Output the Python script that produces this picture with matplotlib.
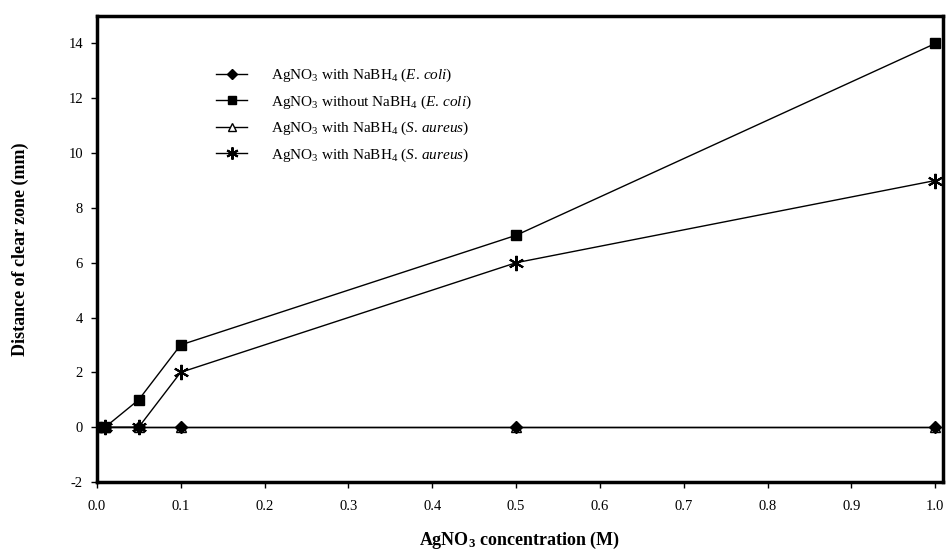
import numpy as np
import matplotlib
matplotlib.use("Agg")
import matplotlib.pyplot as plt

plt.rcParams["font.family"] = "Liberation Serif"
plt.rcParams["mathtext.fontset"] = "custom"
plt.rcParams["mathtext.rm"] = "Liberation Serif"
plt.rcParams["mathtext.it"] = "Liberation Serif:italic"
plt.rcParams["mathtext.bf"] = "Liberation Serif:bold"
plt.rcParams["axes.unicode_minus"] = False

# concentracoes de AgNO3 (M) e zona de inibicao (mm)
conc = [0.0, 0.01, 0.05, 0.1, 0.5, 1.0]
ecoli_with = [0, 0, 0, 0, 0, 0]
ecoli_without = [0, 0, 1, 3, 7, 14]
saureus_with = [0, 0, 0, 0, 0, 0]
saureus_with2 = [0, 0, 0, 2, 6, 9]

labels = [
    r"AgNO$_3$ with NaBH$_4$ ($\mathit{E.\,coli}$)",
    r"AgNO$_3$ without NaBH$_4$ ($\mathit{E.\,coli}$)",
    r"AgNO$_3$ with NaBH$_4$ ($\mathit{S.\,aureus}$)",
    r"AgNO$_3$ with NaBH$_4$ ($\mathit{S.\,aureus}$)",
]

fig = plt.figure(figsize=(9.49, 5.54), dpi=100)
ax = fig.add_axes([0.102, 0.13, 0.892, 0.841])

l1, = ax.plot(conc, ecoli_with, color="black", lw=1, marker="D", ms=6,
              label=labels[0], zorder=4)
l2, = ax.plot(conc, ecoli_without, color="black", lw=1, marker="s", ms=7,
              label=labels[1], zorder=3)
l3, = ax.plot(conc, saureus_with, color="black", lw=1, marker="^", ms=7,
              mfc="white", label=labels[2], zorder=2)
l4, = ax.plot(conc, saureus_with2, color="black", lw=1, marker=(6, 2, 0), ms=11,
              mew=1.5, label=labels[3], zorder=3)

ax.set_xlim(0, 1.0095)
ax.set_ylim(-2, 15)
ax.set_xticks(np.arange(0, 1.01, 0.1))
ax.set_xticklabels(["%.1f" % v for v in np.arange(0, 1.01, 0.1)])
ax.set_yticks(np.arange(-2, 15, 2))
ax.tick_params(direction="out", length=4, width=1, labelsize=10.5, pad=6)
ax.tick_params(axis="x", pad=9)
for s in ax.spines.values():
    s.set_linewidth(2.5)

ax.set_xlabel(r"AgNO$_\mathbf{3}$ concentration (M)", fontsize=13,
              fontweight="bold", labelpad=12)
ax.set_ylabel("Distance of clear zone (mm)", fontsize=13, fontweight="bold",
              labelpad=28)

ax.legend(handles=[l1, l2, l3, l4], loc="upper left",
          bbox_to_anchor=(0.125, 0.92), frameon=False, fontsize=11,
          handlelength=2.0, handletextpad=1.6, labelspacing=0.6,
          markerscale=0.8)

plt.savefig("out.png", dpi=100)
plt.close()
